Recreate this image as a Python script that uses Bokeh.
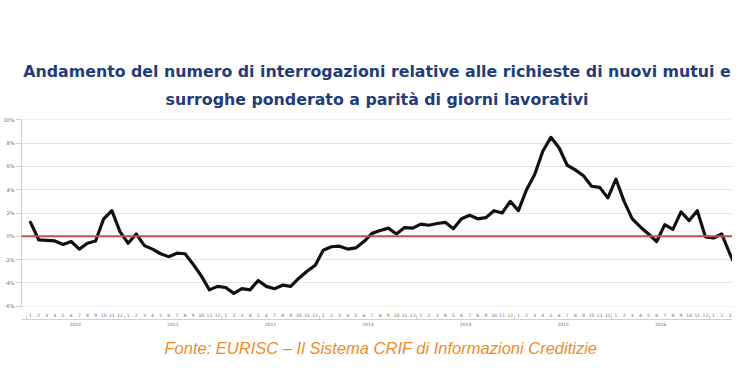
from bokeh.plotting import figure
from bokeh.models import (ColumnDataSource, Range1d, LinearAxis, FixedTicker,
                          Grid, Span, Title)
from bokeh.embed import file_html
from bokeh.resources import INLINE

# ---- data -------------------------------------------------------------
title_line1 = "Andamento del numero di interrogazioni relative alle richieste di nuovi mutui e"
title_line2 = "surroghe ponderato a parità di giorni lavorativi"
source_text = "Fonte: EURISC \u2013 Il Sistema CRIF di Informazioni Creditizie"

years = ["2010", "2011", "2012", "2013", "2014", "2015", "2016", "2017"]
month_labels = ["1", "2", "3", "4", "5", "6", "7", "8", "9", "10", "11", "12"]

# monthly % change, Jan 2010 onwards
values = [
    1.2, -0.3, -0.35, -0.4, -0.7, -0.45, -1.1, -0.6, -0.4, 1.5, 2.2, 0.4,      # 2010
    -0.6, 0.2, -0.8, -1.1, -1.5, -1.75, -1.45, -1.5, -2.4, -3.4, -4.6, -4.3,   # 2011
    -4.4, -4.9, -4.5, -4.6, -3.8, -4.3, -4.5, -4.2, -4.3, -3.6, -3.0, -2.5,    # 2012
    -1.2, -0.9, -0.85, -1.1, -1.0, -0.45, 0.25, 0.5, 0.7, 0.2, 0.75, 0.7,      # 2013
    1.05, 0.95, 1.1, 1.2, 0.65, 1.5, 1.8, 1.5, 1.6, 2.2, 2.0, 3.0,             # 2014
    2.2, 4.0, 5.3, 7.3, 8.5, 7.6, 6.1, 5.7, 5.2, 4.3, 4.2, 3.3,                # 2015
    4.9, 3.0, 1.5, 0.8, 0.2, -0.45, 1.0, 0.6, 2.1, 1.35, 2.2, -0.05,           # 2016
    -0.15, 0.2, -1.5, -3.0,                                                   # 2017
]
y_ticks = [-6, -4, -2, 0, 2, 4, 6, 8, 10]
y_tick_labels = ["-6%", "-4%", "-2%", "0%", "2%", "4%", "6%", "8%", "10%"]

idx = list(range(len(values)))
src = ColumnDataSource(data=dict(x=idx, y=values))

# ---- figure -----------------------------------------------------------
p = figure(width=732, height=373, output_backend="svg", toolbar_location=None,
           x_range=Range1d(-1.11, 86.33), y_range=Range1d(-6.03, 10.03),
           x_axis_type=None, y_axis_type=None,
           min_border_left=15, min_border_right=0,
           min_border_top=119, min_border_bottom=67)
p.outline_line_color = None
p.background_fill_color = "white"
p.border_fill_color = "white"

grid_color = "#e3e3e3"
ax_color = "#d0d0d0"
lab_color = "#6a6a6a"

# y axis
yaxis = LinearAxis(ticker=FixedTicker(ticks=y_ticks),
                   major_label_overrides={t: l for t, l in zip(y_ticks, y_tick_labels)})
yaxis.axis_line_color = ax_color
yaxis.major_tick_line_color = ax_color
yaxis.major_tick_out = 6
yaxis.major_tick_in = 0
yaxis.minor_tick_line_color = None
yaxis.major_label_standoff = 1
yaxis.major_label_text_font = "DejaVu Sans"
yaxis.major_label_text_font_size = "5px"
yaxis.major_label_text_color = lab_color
p.add_layout(yaxis, "left")

p.add_layout(Grid(dimension=1, ticker=FixedTicker(ticks=y_ticks),
                  grid_line_color=grid_color, grid_line_width=1))

# month axis
month_ticks = idx
maxis = LinearAxis(ticker=FixedTicker(ticks=month_ticks),
                   major_label_overrides={i: month_labels[i % 12] for i in month_ticks})
maxis.axis_line_color = None
maxis.major_tick_line_color = None
maxis.minor_tick_line_color = None
maxis.major_tick_out = 0
maxis.major_tick_in = 0
maxis.major_label_standoff = 6
maxis.major_label_text_font = "DejaVu Sans"
maxis.major_label_text_font_size = "4.5px"
maxis.major_label_text_color = lab_color
p.add_layout(maxis, "below")

# year axis
year_centers = [12 * k + 5.5 for k in range(len(years))]
year_bounds = [12 * k - 0.5 for k in range(len(years) + 1)]
yraxis = LinearAxis(ticker=FixedTicker(ticks=year_centers, minor_ticks=year_bounds),
                    major_label_overrides={c: y for c, y in zip(year_centers, years)})
yraxis.axis_line_color = ax_color
yraxis.major_tick_line_color = None
yraxis.major_tick_out = 0
yraxis.major_tick_in = 0
yraxis.minor_tick_line_color = ax_color
yraxis.minor_tick_in = 4
yraxis.minor_tick_out = 0
yraxis.major_label_standoff = 2
yraxis.major_label_text_font = "DejaVu Sans"
yraxis.major_label_text_font_size = "4.5px"
yraxis.major_label_text_color = lab_color
p.add_layout(yraxis, "below")

# zero line
p.add_layout(Span(location=0, dimension="width", line_color="#c0504d", line_width=2))

# series
p.line("x", "y", source=src, line_color="#111111", line_width=3.2,
       line_join="round", line_cap="round")

# titles
t2 = Title(text=title_line2, align="center", offset=2,
           text_font="DejaVu Sans", text_font_size="15.8px", text_font_style="bold",
           text_color="#1f3d7a", standoff=21)
t1 = Title(text=title_line1, align="center", offset=2,
           text_font="DejaVu Sans", text_font_size="15.8px", text_font_style="bold",
           text_color="#1f3d7a", standoff=-7)
p.add_layout(t2, "above")
p.add_layout(t1, "above")

fonte = Title(text=source_text, align="left", offset=143,
              text_font="Liberation Sans", text_font_size="16.5px", text_font_style="italic",
              text_color="#f08c28", standoff=16)
p.add_layout(fonte, "below")

open("out.html", "w").write(file_html(p, INLINE))
